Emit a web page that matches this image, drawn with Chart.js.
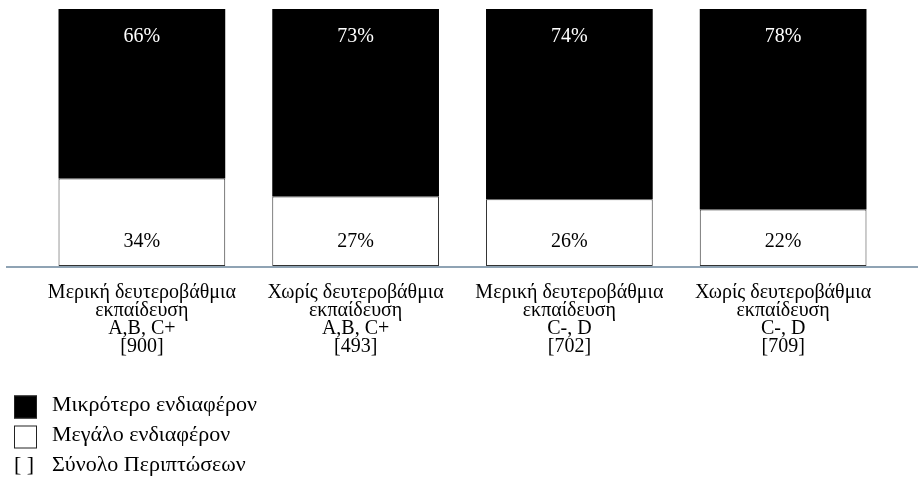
<!DOCTYPE html>
<html>
<head>
<meta charset="utf-8">
<script src="https://cdn.jsdelivr.net/npm/chart.js@4/dist/chart.umd.min.js"></script>
<style>
  html, body { margin: 0; padding: 0; background: #fff; }
  #wrap { width: 918px; height: 478px; position: relative; }
</style>
</head>
<body>
<div id="wrap"><canvas id="c" width="918" height="478"></canvas></div>
<script>
// Categories: education level, grade group and number of cases
const categories = [
  ['Μερική δευτεροβάθμια', 'εκπαίδευση', 'A,B, C+', '[900]'],
  ['Χωρίς δευτεροβάθμια', 'εκπαίδευση', 'A,B, C+', '[493]'],
  ['Μερική δευτεροβάθμια', 'εκπαίδευση', 'C-, D', '[702]'],
  ['Χωρίς δευτεροβάθμια', 'εκπαίδευση', 'C-, D', '[709]']
];
// Share of respondents (%)
const bigInterest = [34, 27, 26, 22];
const lessInterest = [66, 73, 74, 78];
const seriesNames = ['Μεγάλο ενδιαφέρον', 'Μικρότερο ενδιαφέρον'];
const casesNote = 'Σύνολο Περιπτώσεων';

const FONT = "'Liberation Serif', 'Times New Roman', serif";

// Percent labels: bottom segment near the base, top segment near the top
const valueLabels = {
  id: 'valueLabels',
  afterDatasetsDraw(chart) {
    const ctx = chart.ctx;
    ctx.save();
    ctx.font = '20px ' + FONT;
    ctx.textAlign = 'center';
    ctx.textBaseline = 'middle';
    chart.data.datasets.forEach((ds, di) => {
      const meta = chart.getDatasetMeta(di);
      meta.data.forEach((bar, i) => {
        const v = ds.data[i];
        if (di === 0) {
          ctx.fillStyle = '#000';
          ctx.fillText(v + '%', bar.x, bar.base - 24);
        } else {
          ctx.fillStyle = '#fff';
          ctx.fillText(v + '%', bar.x, bar.y + 28);
        }
      });
    });
    ctx.restore();
  }
};

// Baseline across the full width
const baseline = {
  id: 'baseline',
  afterDatasetsDraw(chart) {
    const ctx = chart.ctx;
    const y = chart.scales.y.getPixelForValue(0);
    ctx.save();
    ctx.strokeStyle = '#8fa3b4';
    ctx.lineWidth = 2;
    ctx.beginPath();
    ctx.moveTo(6, y + 1);
    ctx.lineTo(chart.width, y + 1);
    ctx.stroke();
    ctx.restore();
  }
};

// Legend stacked vertically in the lower left corner
const sideLegend = {
  id: 'sideLegend',
  afterDraw(chart) {
    const ctx = chart.ctx;
    ctx.save();
    ctx.font = '22px ' + FONT;
    ctx.textBaseline = 'middle';
    ctx.textAlign = 'left';
    const x0 = 14, size = 23, tx = 52;
    const rows = [
      { y: 407, fill: '#000', text: chart.data.datasets[1].label },
      { y: 437, fill: '#fff', text: chart.data.datasets[0].label }
    ];
    rows.forEach(r => {
      ctx.fillStyle = r.fill;
      ctx.fillRect(x0, r.y - size / 2, size, size);
      ctx.strokeStyle = '#222';
      ctx.lineWidth = 1;
      ctx.strokeRect(x0 + 0.5, r.y - size / 2 + 0.5, size - 1, size - 1);
      ctx.fillStyle = '#000';
      ctx.fillText(r.text, tx, r.y - 2);
    });
    ctx.fillStyle = '#000';
    ctx.fillText('[ ]', x0, 465);
    ctx.fillText(casesNote, tx, 465);
    ctx.restore();
  }
};

new Chart(document.getElementById('c'), {
  type: 'bar',
  data: {
    labels: categories,
    datasets: [
      {
        label: seriesNames[0],
        data: bigInterest,
        backgroundColor: '#ffffff',
        borderColor: '#333333',
        borderWidth: 1,
        borderSkipped: false
      },
      {
        label: seriesNames[1],
        data: lessInterest,
        backgroundColor: '#000000',
        borderColor: '#000000',
        borderWidth: 0
      }
    ]
  },
  options: {
    responsive: false,
    animation: false,
    devicePixelRatio: 1,
    layout: { padding: { top: 9, left: 35, right: 28, bottom: 0 } },
    datasets: { bar: { categoryPercentage: 1, barPercentage: 0.78 } },
    plugins: {
      legend: { display: false },
      tooltip: { enabled: false }
    },
    scales: {
      x: {
        stacked: true,
        grid: { display: false, drawTicks: false },
        border: { display: false },
        ticks: {
          color: '#000',
          padding: 18,
          maxRotation: 0,
          autoSkip: false,
          font: { family: FONT, size: 20, lineHeight: 0.9 }
        },
        afterFit(scale) { scale.height = 212; }
      },
      y: {
        stacked: true,
        display: false,
        min: 0,
        max: 100
      }
    }
  },
  plugins: [valueLabels, baseline, sideLegend]
});
</script>
</body>
</html>
